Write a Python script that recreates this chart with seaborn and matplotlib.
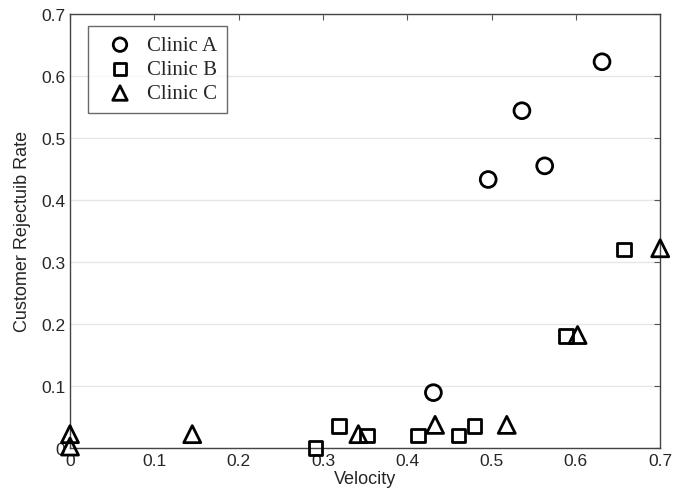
import pandas as pd
import matplotlib
matplotlib.use("Agg")
import matplotlib.pyplot as plt
import seaborn as sns

# Clinic A
a_vel = [0.431, 0.496, 0.536, 0.563, 0.631]
a_rate = [0.089, 0.433, 0.544, 0.455, 0.623]
# Clinic B
b_vel = [0.291, 0.319, 0.352, 0.413, 0.461, 0.480, 0.588, 0.657]
b_rate = [0.0, 0.035, 0.020, 0.020, 0.020, 0.035, 0.180, 0.320]
# Clinic C
c_vel = [0.0, 0.0, 0.145, 0.342, 0.433, 0.518, 0.602, 0.700]
c_rate = [0.022, 0.002, 0.022, 0.022, 0.037, 0.037, 0.182, 0.322]

ticks = [0, 0.1, 0.2, 0.3, 0.4, 0.5, 0.6, 0.7]
tick_labels = ["0", "0.1", "0.2", "0.3", "0.4", "0.5", "0.6", "0.7"]

df = pd.concat([
    pd.DataFrame({"Velocity": a_vel, "Rate": a_rate, "Clinic": "Clinic A"}),
    pd.DataFrame({"Velocity": b_vel, "Rate": b_rate, "Clinic": "Clinic B"}),
    pd.DataFrame({"Velocity": c_vel, "Rate": c_rate, "Clinic": "Clinic C"}),
])

sns.set_style("white")
plt.rcParams["font.family"] = ["Liberation Sans", "DejaVu Sans"]

fig = plt.figure(figsize=(6.73, 5.02), dpi=100)
ax = fig.add_axes([0.104, 0.106, 0.877, 0.864])

markers = {"Clinic A": ("o", 130), "Clinic B": ("s", 95), "Clinic C": ("^", 150)}
for clinic, (m, s) in markers.items():
    sub = df[df["Clinic"] == clinic]
    sns.scatterplot(data=sub, x="Velocity", y="Rate", marker=m, s=s,
                    facecolors="none", edgecolor="black", linewidth=2,
                    label=clinic, ax=ax, clip_on=False, zorder=3)

ax.set_xlim(0, 0.7)
ax.set_ylim(0, 0.7)
ax.set_xticks(ticks)
ax.set_xticklabels(tick_labels)
ax.set_yticks(ticks)
ax.set_yticklabels(tick_labels)
ax.tick_params(direction="in", top=True, right=True, length=4, width=0.8,
               labelsize=12.5, color="#555555")
ax.grid(axis="y", color="#e6e6e6", linewidth=1)
ax.set_axisbelow(True)
for sp in ax.spines.values():
    sp.set_color("#444444")
    sp.set_linewidth(1)

ax.set_xlabel("Velocity", fontsize=13, labelpad=2)
ax.set_ylabel("Customer Rejectuib Rate", fontsize=13, labelpad=7)

leg = ax.legend(loc="upper left", bbox_to_anchor=(0.03, 0.972), borderaxespad=0,
                frameon=True, fancybox=False, edgecolor="#444444",
                prop={"family": "Liberation Serif", "size": 15},
                markerscale=0.85, handletextpad=0.2, labelspacing=0.22,
                borderpad=0.45, handlelength=2.2)
leg.get_frame().set_linewidth(1)

fig.savefig("out.png", dpi=100)
